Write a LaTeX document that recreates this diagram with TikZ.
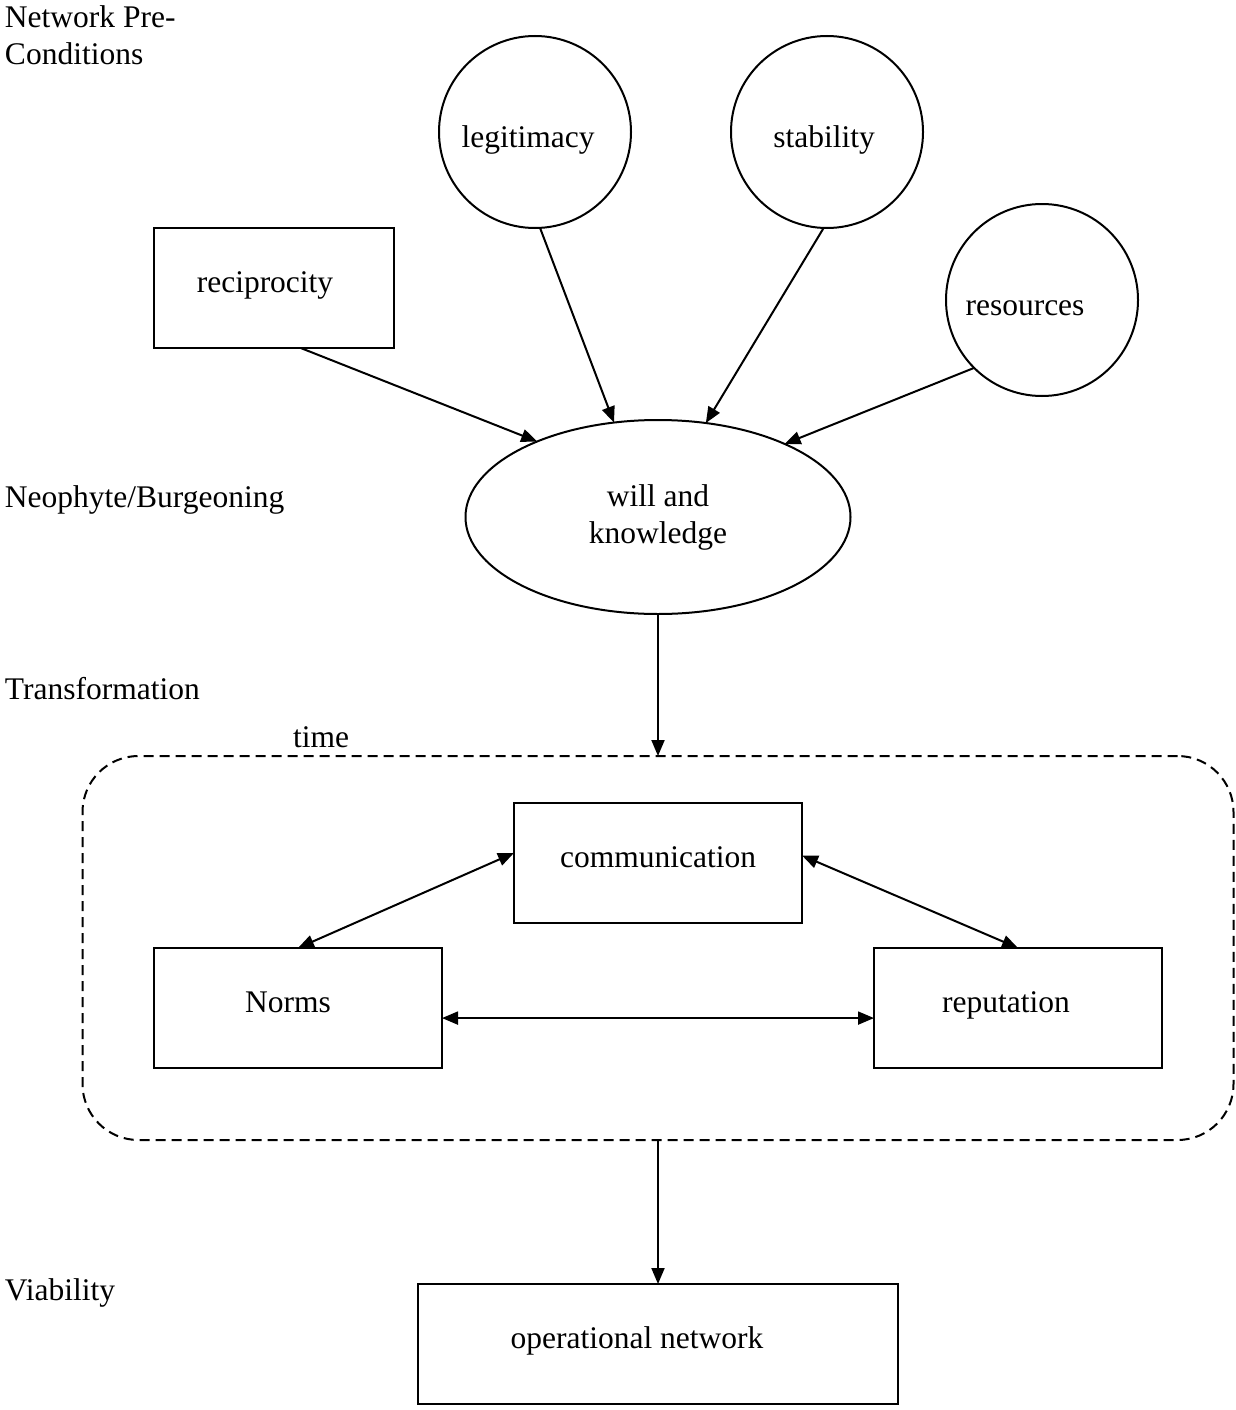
\documentclass[tikz,border=0pt]{standalone}
\usepackage{fontspec}
\setmainfont{Liberation Serif}
\usetikzlibrary{arrows.meta,shapes.geometric}
\begin{document}
\begin{tikzpicture}[x=1pt,y=-1pt,
  every node/.style={font=\fontsize{31.5}{37}\selectfont, inner sep=0pt, outer sep=0pt},
  lbl/.style={anchor=base west, align=left},
  box/.style={draw, line width=2pt, minimum width=#1, minimum height=120pt, text height=22pt, text depth=13pt},
  circ/.style={draw, circle, line width=2pt, minimum size=192pt, text height=30pt, text depth=0pt},
  ell/.style={draw, ellipse, line width=2pt, minimum width=385pt, minimum height=194pt, align=center},
  timebox/.style={draw, line width=2pt, rounded corners=56pt, dash pattern=on 10pt off 6pt, minimum width=1151pt, minimum height=384pt},
  arr/.style={-{Triangle[length=16pt,width=13pt]}, line width=2pt},
  darr/.style={{Triangle[length=16pt,width=13pt]}-{Triangle[length=16pt,width=13pt]}, line width=2pt}
]
\useasboundingbox (0,0) rectangle (1236,1410);

% stage labels
\node[lbl] (lpre) at (5,65) {Network Pre-\\Conditions};
\node[lbl] (lneo) at (5,507) {Neophyte/Burgeoning};
\node[lbl] (ltr) at (5,699) {Transformation};
\node[lbl] (lvia) at (5,1300) {Viability};

% pre-conditions
\node[circ] (leg) at (535,132) {\hspace*{-14pt}legitimacy};
\node[circ] (stab) at (827,132) {\hspace*{-6pt}stability};
\node[circ] (res) at (1042,300) {\hspace*{-34pt}resources};
\node[box=240pt] (rec) at (274,288) {\hspace*{-18pt}reciprocity};

% will and knowledge
\node[ell] (will) at (658,517) {will and\\knowledge};

% transformation
\node[timebox] (tb) at (658,948) {};
\node[anchor=base west] (time) at (293,747) {time};
\node[box=288pt] (comm) at (658,863) {communication};
\node[box=288pt] (norms) at (298,1008) {\hspace*{-20pt}Norms};
\node[box=288pt] (rep) at (1018,1008) {\hspace*{-24pt}reputation};

% viability
\node[box=480pt] (op) at (658,1344) {\hspace*{-42pt}operational network};

% connectors
\draw[arr] (rec.-66.6) -- (will.148.3);
\draw[arr] (leg.-87) -- (will.115.9);
\draw[arr] (stab.-92.4) -- (will.63);
\draw[arr] (res.225) -- (will.30.7);
\draw[arr] (will.south) -- (tb.north);
\draw[darr] (comm.176.03) -- (norms.north);
\draw[darr] (comm.3.97) -- (rep.north);
\draw[darr] (norms.-4.76) -- (rep.184.76);
\draw[arr] (tb.south) -- (op.north);
\end{tikzpicture}
\end{document}
